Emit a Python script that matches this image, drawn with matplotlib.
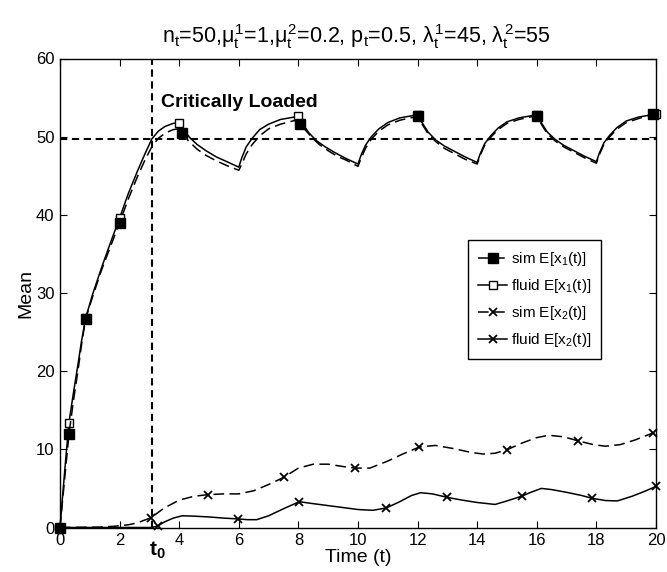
import numpy as np
import matplotlib
matplotlib.use("Agg")
import matplotlib.pyplot as plt
from matplotlib.transforms import blended_transform_factory

plt.rcParams['font.family'] = ['Liberation Sans', 'DejaVu Sans']
plt.rcParams['mathtext.fontset'] = 'custom'
plt.rcParams['mathtext.rm'] = 'Liberation Sans'
plt.rcParams['mathtext.it'] = 'Liberation Sans'
plt.rcParams['mathtext.bf'] = 'Liberation Sans:bold'

# ---- class-1 queue, fluid approximation ----
t_fluid1 = [0, 0.1, 0.2, 0.3, 0.45, 0.6, 0.72, 0.86, 1.1, 1.4, 1.7, 2.0, 2.3, 2.6, 2.85, 3.08, 3.3, 3.52, 3.8, 4.0,
            4.15, 4.35, 4.6, 4.9, 5.25, 5.6, 6.0, 6.1, 6.25, 6.45, 6.7, 7.0, 7.4, 8.0,
            8.15, 8.35, 8.6, 8.9, 9.25, 9.6, 10.0, 10.1, 10.25, 10.45, 10.7, 11.0, 11.4, 12.0,
            12.15, 12.35, 12.6, 12.9, 13.25, 13.6, 14.0, 14.1, 14.25, 14.45, 14.7, 15.0, 15.4, 16.0,
            16.15, 16.35, 16.6, 16.9, 17.25, 17.6, 18.0, 18.1, 18.25, 18.45, 18.7, 19.0, 19.4, 20.0]
x1_fluid = [0, 4.6, 9.1, 13.4, 17.2, 20.8, 23.8, 26.8, 29.9, 33.3, 36.5, 39.6, 42.8, 45.6, 47.8, 49.7, 50.7, 51.3, 51.7, 51.8,
            50.9, 49.9, 49.0, 48.2, 47.4, 46.8, 46.1, 47.3, 48.7, 49.8, 50.9, 51.6, 52.2, 52.6,
            51.6, 50.5, 49.5, 48.7, 47.9, 47.2, 46.5, 47.6, 48.9, 50.0, 51.0, 51.8, 52.4, 52.8,
            51.8, 50.6, 49.6, 48.8, 48.1, 47.4, 46.7, 47.8, 49.1, 50.1, 51.1, 51.9, 52.4, 52.8,
            51.8, 50.6, 49.7, 48.9, 48.2, 47.5, 46.8, 47.9, 49.2, 50.2, 51.2, 52.0, 52.5, 52.9]
marks_fluid1 = [0, 0.3, 0.86, 2.0, 4.0, 8.0, 12.0, 16.0, 20.0]

# ---- class-1 queue, simulation ----
t_sim1 = [0, 0.15, 0.3, 0.45, 0.6, 0.72, 0.86, 1.1, 1.4, 1.7, 2.0, 2.3, 2.6, 2.85, 3.08, 3.3, 3.55, 3.8, 3.95,
          4.1, 4.3, 4.6, 4.9, 5.25, 5.6, 6.0, 6.1, 6.25, 6.45, 6.7, 7.0, 7.4, 7.8, 7.95,
          8.05, 8.2, 8.45, 8.7, 9.0, 9.3, 9.6, 10.0, 10.1, 10.25, 10.45, 10.7, 11.0, 11.4, 12.0,
          12.15, 12.35, 12.6, 12.9, 13.25, 13.6, 14.0, 14.1, 14.25, 14.45, 14.7, 15.0, 15.4, 16.0,
          16.15, 16.35, 16.6, 16.9, 17.25, 17.6, 18.0, 18.1, 18.25, 18.45, 18.7, 19.0, 19.4, 19.9]
x1_sim = [0, 6.0, 11.9, 16.2, 20.0, 23.3, 26.7, 29.6, 33.0, 36.0, 39.0, 42.1, 44.9, 47.0, 48.7, 49.8, 50.5, 50.9, 51.0,
          50.5, 49.5, 48.4, 47.6, 46.9, 46.3, 45.7, 46.5, 47.8, 49.0, 50.1, 51.0, 51.6, 52.0, 52.1,
          51.6, 51.0, 49.9, 49.0, 48.2, 47.5, 47.0, 46.2, 47.2, 48.5, 49.7, 50.7, 51.5, 52.1, 52.6,
          51.6, 50.4, 49.4, 48.5, 47.8, 47.1, 46.5, 47.6, 48.9, 49.9, 50.9, 51.7, 52.2, 52.7,
          51.6, 50.4, 49.5, 48.7, 48.0, 47.3, 46.6, 47.7, 49.0, 50.0, 51.0, 51.8, 52.3, 52.9]
marks_sim1 = [0, 0.3, 0.86, 2.0, 4.1, 8.05, 12.0, 16.0, 19.9]

# ---- class-2 queue, simulation ----
t_sim2 = [0, 1.3, 1.8, 2.3, 2.6, 3.05, 3.5, 4.0, 4.5, 4.96, 5.5, 6.0, 6.5, 7.0, 7.5, 8.0, 8.5, 9.0, 9.5, 9.9,
          10.4, 11.0, 11.5, 12.06, 12.6, 13.2, 13.8, 14.2, 14.6, 15.0, 15.5, 16.0, 16.4, 16.9, 17.37,
          17.9, 18.3, 18.8, 19.3, 19.9]
x2_sim = [0, 0.05, 0.15, 0.35, 0.6, 1.25, 2.5, 3.5, 4.0, 4.2, 4.3, 4.3, 4.7, 5.5, 6.4, 7.6, 8.1, 8.1, 7.8, 7.6,
          7.6, 8.5, 9.4, 10.3, 10.5, 10.1, 9.6, 9.4, 9.5, 9.95, 10.8, 11.5, 11.8, 11.6, 11.1,
          10.6, 10.4, 10.6, 11.2, 12.1]
marks_sim2 = [0, 3.05, 4.96, 7.5, 9.9, 12.06, 15.0, 17.37, 19.9]

# ---- class-2 queue, fluid approximation ----
t_fluid2 = [0, 3.08, 3.28, 3.5, 3.8, 4.1, 4.5, 5.0, 5.5, 5.96, 6.3, 6.6, 7.0, 7.5, 8.03, 8.5, 9.0, 9.5, 10.0,
            10.5, 10.95, 11.4, 11.8, 12.1, 12.5, 13.0, 13.5, 14.0, 14.6, 15.0, 15.49, 15.8, 16.15, 16.5,
            17.0, 17.5, 17.84, 18.3, 18.7, 19.2, 19.6, 20.0]
x2_fluid = [0, 0, 0.2, 0.7, 1.2, 1.5, 1.45, 1.35, 1.2, 1.1, 1.0, 1.0, 1.5, 2.4, 3.3, 3.05, 2.8, 2.55, 2.3,
            2.2, 2.5, 3.3, 4.1, 4.45, 4.3, 3.85, 3.5, 3.2, 2.95, 3.4, 4.0, 4.5, 5.0, 4.85,
            4.5, 4.1, 3.75, 3.45, 3.4, 4.0, 4.6, 5.25]
marks_fluid2 = [0, 3.28, 5.96, 8.03, 10.95, 13.0, 15.49, 17.84, 20.0]

n_servers = 49.7      # staffing level (horizontal reference)
t0 = 3.08             # time at which the system becomes critically loaded

x_ticks = list(range(0, 21, 2))
y_ticks = list(range(0, 61, 10))


def mark_index(t, marks):
    t = np.asarray(t, dtype=float)
    return [int(np.argmin(np.abs(t - m))) for m in marks]


fig = plt.figure(figsize=(6.67, 5.72), dpi=100)
ax = fig.add_axes([60 / 667, 1 - 527.5 / 572, 596 / 667, 469 / 572])

dash = (7, 3.5)
common = dict(color='black', lw=1.1, clip_on=False)

ax.plot(t_sim2, x2_sim, dashes=dash, marker='x', ms=6, mew=1.3,
        markevery=mark_index(t_sim2, marks_sim2), label=r'sim E[x$_2$(t)]', zorder=3, **common)
ax.plot(t_fluid2, x2_fluid, ls='-', marker='x', ms=6, mew=1.3,
        markevery=mark_index(t_fluid2, marks_fluid2), label=r'fluid E[x$_2$(t)]', zorder=3, **common)
ax.plot(t_fluid1, x1_fluid, ls='-', marker='s', ms=6, mfc='white', mew=1.0,
        markevery=mark_index(t_fluid1, marks_fluid1), label=r'fluid E[x$_1$(t)]', zorder=4, **common)
ax.plot(t_sim1, x1_sim, dashes=dash, marker='s', ms=6.5, mfc='black', mew=1.0,
        markevery=mark_index(t_sim1, marks_sim1), label=r'sim E[x$_1$(t)]', zorder=5, **common)

# reference lines
ax.axhline(n_servers, color='black', lw=1.5, dashes=(3.5, 2.2), zorder=2)
ax.axvline(t0, color='black', lw=1.5, dashes=(3.5, 2.2), zorder=2)

ax.set_xlim(0, 20)
ax.set_ylim(0, 60)
ax.set_xticks(x_ticks)
ax.set_yticks(y_ticks)
ax.tick_params(direction='in', top=True, right=True, length=5, width=0.8,
               labelsize=12, pad=4)
for s in ax.spines.values():
    s.set_linewidth(1.0)

ax.set_xlabel('Time (t)', fontsize=14)
ax.set_ylabel('Mean', fontsize=14, labelpad=1)
ax.xaxis.set_label_coords(0.5, -0.045)

fig.text(356 / 667, 1 - 42.7 / 572,
         r'n$_t$=50,$\mu_t^1$=1,$\mu_t^2$=0.2, p$_t$=0.5, $\lambda_t^1$=45, $\lambda_t^2$=55',
         ha='center', va='baseline', fontsize=15.5)

ax.text(3.39, 53.8, 'Critically Loaded', fontsize=14, fontweight='bold', va='baseline', ha='left')

trans = blended_transform_factory(ax.transData, ax.transAxes)
ax.text(3.0, -0.025, r'$\mathbf{t_0}$', transform=trans, fontsize=15, ha='left', va='top')

handles, labels = ax.get_legend_handles_labels()
order = [3, 2, 0, 1]
leg = ax.legend([handles[i] for i in order], [labels[i] for i in order],
                loc='upper left', bbox_to_anchor=(0.685, 0.613), borderaxespad=0,
                fontsize=11, handlelength=1.9, handletextpad=0.25, borderpad=0.65,
                labelspacing=0.6, fancybox=False, framealpha=1, edgecolor='black')
leg.get_frame().set_linewidth(1.0)

fig.savefig('out.png', dpi=100)
